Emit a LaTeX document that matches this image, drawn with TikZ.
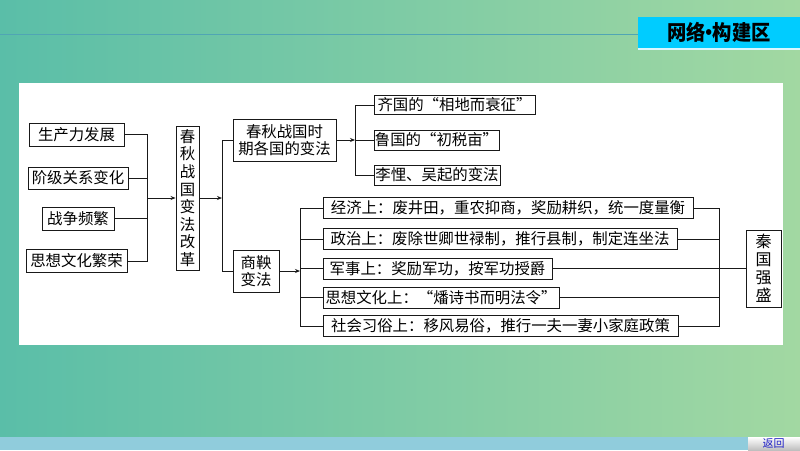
\documentclass[tikz,border=0pt]{standalone}
\usepackage{fontspec}
\setmainfont{Noto Sans CJK SC}
\newfontfamily\cjk{Noto Sans CJK SC}
\usetikzlibrary{arrows.meta}
\definecolor{bgL}{RGB}{90,190,168}
\definecolor{bgR}{RGB}{162,216,162}
\definecolor{hdr}{RGB}{0,204,255}
\definecolor{hline}{RGB}{80,165,180}
\definecolor{strip}{RGB}{144,204,220}
\definecolor{linkblue}{RGB}{30,30,200}
\newcommand\myoq{\makebox[1em][r]{“}}
\newcommand\mycq{\makebox[1em][l]{”}}
\begin{document}
\begin{tikzpicture}[x=1pt,y=-1pt,
  box/.style={draw=black!90, line width=0.9pt, fill=white, inner sep=0pt,
    font=\cjk\fontsize{15.4}{17.6}\selectfont, align=center},
  ln/.style={line width=0.9pt, draw=black!90},
  arr/.style={line width=0.9pt, draw=black!90, -{Stealth[length=5pt,width=4pt]}}]
\useasboundingbox (0,0) rectangle (800,450);
\clip (0,0) rectangle (800,450);
% background
\shade[left color=bgL, right color=bgR] (0,0) rectangle (800,437);
\fill[strip] (0,437) rectangle (800,450);
\draw[hline, line width=1pt] (0,34) -- (638,34);
\fill[white!85!hdr] (638,47) rectangle (800,50);
\fill[hdr] (638,17) rectangle (800,48);
\node[font=\cjk\bfseries\fontsize{21}{21}\selectfont, inner sep=0pt, xscale=0.92] (title) at (719,32.5) {网络\kern-0.32em•\kern-0.32em 构建区};
\shade[top color=white, bottom color=black!25] (748,437) rectangle (800,450);
\node[font=\cjk\fontsize{11}{11}\selectfont, text=linkblue, inner sep=0pt] (back) at (773.5,443.8) {返回};
% white panel
\fill[white] (19,83) rectangle (783,345);
% bracket coordinates
\coordinate (bA) at (147,0);
\coordinate (bB) at (222,0);
\coordinate (bC) at (355,0);
\coordinate (bD) at (300,0);
\coordinate (bE) at (719,0);
% nodes
\node[box, minimum width=95, minimum height=23] (f1) at (76.5,134.5) {生产力发展};
\node[box, minimum width=100, minimum height=22] (f2) at (78,178) {阶级关系变化};
\node[box, minimum width=72, minimum height=23] (f3) at (78,218.5) {战争频繁};
\node[box, minimum width=101, minimum height=23] (f4) at (76.5,261) {思想文化繁荣};
\node[box, minimum width=23, minimum height=144] (cause) at (187.5,198) {春\\秋\\战\\国\\变\\法\\改\\革};
\node[box, minimum width=103, minimum height=42] (period) at (284.5,140) {春秋战国时\\期各国的变法};
\node[box, minimum width=46, minimum height=42] (shang) at (256,271) {商鞅\\变法};
\node[box, minimum width=161, minimum height=19] (q1) at (454.5,105) {齐国的\myoq 相地而衰征\mycq};
\node[box, minimum width=125, minimum height=20] (q2) at (436.5,140) {鲁国的\myoq 初税亩\mycq};
\node[box, minimum width=126, minimum height=20] (q3) at (437,175) {李悝、吴起的变法};
\node[box, minimum width=370, minimum height=21] (s1) at (508,208) {经济上：废井田，重农抑商，奖励耕织，统一度量衡};
\node[box, minimum width=354, minimum height=21] (s2) at (500,239) {政治上：废除世卿世禄制，推行县制，制定连坐法};
\node[box, minimum width=229, minimum height=21] (s3) at (437.5,268.5) {军事上：奖励军功，按军功授爵};
\node[box, minimum width=236, minimum height=21] (s4) at (441,297.5) {思想文化上：\myoq 燔诗书而明法令\mycq};
\node[box, minimum width=355, minimum height=21] (s5) at (500.5,326) {社会习俗上：移风易俗，推行一夫一妻小家庭政策};
\node[box, minimum width=35, minimum height=77, font=\cjk\fontsize{16}{18}\selectfont] (qin) at (763.5,268.5) {秦\\国\\强\\盛};
% connectors
\draw[ln] (f1.east) -- (f1.east -| bA) -- (f4.east -| bA) -- (f4.east);
\draw[ln] (f2.east) -- (f2.east -| bA);
\draw[ln] (f3.east) -- (f3.east -| bA);
\draw[arr] (bA |- cause.west) -- (cause.west);
\draw[arr] (cause.east) -- (cause.east -| bB);
\draw[ln] (period.west) -- (period.west -| bB) -- (shang.west -| bB) -- (shang.west);
\draw[arr] (period.east) -- (period.east -| bC);
\draw[ln] (q1.west) -- (q1.west -| bC) -- (q3.west -| bC) -- (q3.west);
\draw[ln] (q2.west) -- (q2.west -| bC);
\draw[arr] (shang.east) -- (shang.east -| bD);
\draw[ln] (s1.west) -- (s1.west -| bD) -- (s5.west -| bD) -- (s5.west);
\draw[ln] (s2.west) -- (s2.west -| bD);
\draw[ln] (s3.west) -- (s3.west -| bD);
\draw[ln] (s4.west) -- (s4.west -| bD);
\draw[ln] (s1.east) -- (s1.east -| bE) -- (s5.east -| bE) -- (s5.east);
\draw[ln] (s2.east) -- (s2.east -| bE);
\draw[ln] (s4.east) -- (s4.east -| bE);
\draw[ln] (s3.east) -- (qin.west);
\end{tikzpicture}
\end{document}
